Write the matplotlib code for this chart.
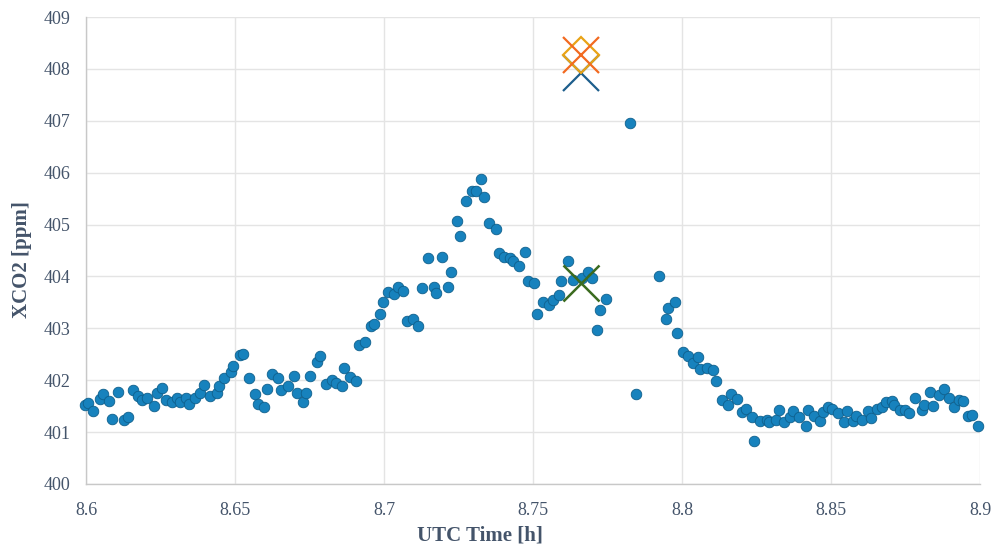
import matplotlib
matplotlib.use("Agg")
import matplotlib.pyplot as plt

# measured XCO2 along the track
utc_time = [
    8.5995, 8.6008, 8.6024, 8.6047, 8.6058, 8.6078, 8.6086, 8.6108, 8.6129, 8.6140,
    8.6157, 8.6176, 8.6187, 8.6206, 8.6228, 8.6237, 8.6256, 8.6268, 8.6288, 8.6306,
    8.6315, 8.6335, 8.6347, 8.6366, 8.6383, 8.6396, 8.6416, 8.6439, 8.6447, 8.6464,
    8.6487, 8.6494, 8.6517, 8.6528, 8.6547, 8.6567, 8.6576, 8.6597, 8.6606, 8.6625,
    8.6645, 8.6654, 8.6677, 8.6698, 8.6707, 8.6727, 8.6737, 8.6752, 8.6776, 8.6785,
    8.6805, 8.6824, 8.6839, 8.6858, 8.6866, 8.6886, 8.6905, 8.6916, 8.6936, 8.6955,
    8.6966, 8.6987, 8.6996, 8.7014, 8.7035, 8.7048, 8.7065, 8.7076, 8.7096, 8.7115,
    8.7127, 8.7147, 8.7168, 8.7174, 8.7196, 8.7216, 8.7225, 8.7246, 8.7255, 8.7275,
    8.7294, 8.7309, 8.7326, 8.7336, 8.7353, 8.7375, 8.7386, 8.7404, 8.7423, 8.7434,
    8.7454, 8.7473, 8.7482, 8.7504, 8.7514, 8.7535, 8.7555, 8.7568, 8.7587, 8.7594,
    8.7616, 8.7635, 8.7663, 8.7684, 8.7697, 8.7716, 8.7725, 8.7745, 8.7824, 8.7845,
    8.7924, 8.7945, 8.7954, 8.7977, 8.7984, 8.8004, 8.8021, 8.8035, 8.8055, 8.8060,
    8.8083, 8.8105, 8.8114, 8.8133, 8.8153, 8.8163, 8.8184, 8.8200, 8.8214, 8.8234,
    8.8243, 8.8262, 8.8284, 8.8292, 8.8314, 8.8326, 8.8343, 8.8362, 8.8373, 8.8393,
    8.8415, 8.8424, 8.8444, 8.8463, 8.8472, 8.8491, 8.8504, 8.8522, 8.8545, 8.8553,
    8.8573, 8.8584, 8.8603, 8.8623, 8.8633, 8.8653, 8.8670, 8.8684, 8.8704, 8.8712,
    8.8732, 8.8748, 8.8763, 8.8782, 8.8804, 8.8812, 8.8832, 8.8843, 8.8862, 8.8880,
    8.8896, 8.8913, 8.8930, 8.8944, 8.8959, 8.8974, 8.8992,
]
xco2 = [
    401.52, 401.57, 401.41, 401.64, 401.73, 401.60, 401.25, 401.78, 401.24, 401.29,
    401.81, 401.70, 401.61, 401.65, 401.51, 401.75, 401.85, 401.62, 401.59, 401.65,
    401.59, 401.65, 401.54, 401.65, 401.76, 401.91, 401.70, 401.75, 401.88, 402.05,
    402.15, 402.28, 402.49, 402.50, 402.05, 401.73, 401.54, 401.49, 401.83, 402.12,
    402.05, 401.81, 401.88, 402.09, 401.75, 401.59, 401.76, 402.08, 402.36, 402.47,
    401.93, 402.01, 401.95, 401.89, 402.23, 402.07, 401.99, 402.67, 402.73, 403.05,
    403.08, 403.28, 403.50, 403.71, 403.66, 403.79, 403.72, 403.15, 403.19, 403.05,
    403.77, 404.35, 403.80, 403.69, 404.38, 403.80, 404.09, 405.06, 404.78, 405.45,
    405.65, 405.65, 405.87, 405.54, 405.03, 404.91, 404.46, 404.37, 404.35, 404.29,
    404.20, 404.48, 403.91, 403.87, 403.28, 403.51, 403.45, 403.55, 403.64, 403.91,
    404.30, 403.93, 403.97, 404.09, 403.97, 402.97, 403.35, 403.56, 406.95, 401.73,
    404.00, 403.19, 403.39, 403.50, 402.92, 402.54, 402.47, 402.33, 402.45, 402.22,
    402.23, 402.19, 401.99, 401.62, 401.52, 401.74, 401.64, 401.38, 401.44, 401.30,
    400.82, 401.22, 401.23, 401.20, 401.23, 401.43, 401.20, 401.30, 401.41, 401.30,
    401.11, 401.43, 401.32, 401.22, 401.38, 401.49, 401.45, 401.36, 401.20, 401.40,
    401.22, 401.32, 401.23, 401.41, 401.27, 401.44, 401.49, 401.58, 401.60, 401.52,
    401.43, 401.43, 401.36, 401.66, 401.43, 401.52, 401.77, 401.51, 401.72, 401.83,
    401.65, 401.49, 401.61, 401.60, 401.31, 401.33, 401.11,
]

# single-value markers at the overpass time
overpass_time = 8.7661
blue_x = 407.92
yellow_diamond = 408.27
orange_x = 408.27
green_x = 403.88

text_col = "#44546A"

plt.rcParams["font.family"] = ["Liberation Serif", "DejaVu Serif"]

fig = plt.figure(figsize=(9.91, 5.51), dpi=100)
ax = fig.add_axes([0.0868, 0.1216, 0.9022, 0.8474])

ax.scatter(utc_time, xco2, s=58, color="#1782BD", edgecolors="#0E5F8C",
           linewidths=0.6, zorder=3, clip_on=False)

ax.plot([overpass_time], [blue_x], marker="x", markersize=26, mew=1.6,
        color="#1D5E8C", linestyle="none", zorder=4)
ax.plot([overpass_time], [yellow_diamond], marker="D", markersize=18.3, mew=1.6,
        markerfacecolor="none", markeredgecolor="#E8A317", linestyle="none", zorder=5)
ax.plot([overpass_time], [orange_x], marker="x", markersize=26, mew=1.6,
        color="#F26A21", linestyle="none", zorder=6)
ax.plot([overpass_time], [green_x], marker="x", markersize=26, mew=1.8,
        color="#3B6B1F", linestyle="none", zorder=6)

ax.set_xlim(8.6, 8.9)
ax.set_ylim(400, 409)
ax.set_xticks([8.6, 8.65, 8.7, 8.75, 8.8, 8.85, 8.9])
ax.set_xticklabels(["8.6", "8.65", "8.7", "8.75", "8.8", "8.85", "8.9"])
ax.set_yticks(range(400, 410))

ax.grid(True, color="#E4E4E4", linewidth=1.0, zorder=0)
ax.set_axisbelow(True)
for side in ("top", "right"):
    ax.spines[side].set_visible(False)
for side in ("left", "bottom"):
    ax.spines[side].set_color("#C8C8C8")
    ax.spines[side].set_linewidth(1.0)

ax.tick_params(axis="both", length=0, labelsize=13, labelcolor=text_col)
ax.tick_params(axis="y", pad=11)
ax.tick_params(axis="x", pad=13)

ax.set_xlabel("UTC Time [h]", fontsize=15, fontweight="bold", color=text_col)
ax.set_ylabel("XCO2 [ppm]", fontsize=15, fontweight="bold", color=text_col)
ax.xaxis.set_label_coords(0.441, -0.088)
ax.yaxis.set_label_coords(-0.060, 0.48)

fig.savefig("out.png", dpi=100)
